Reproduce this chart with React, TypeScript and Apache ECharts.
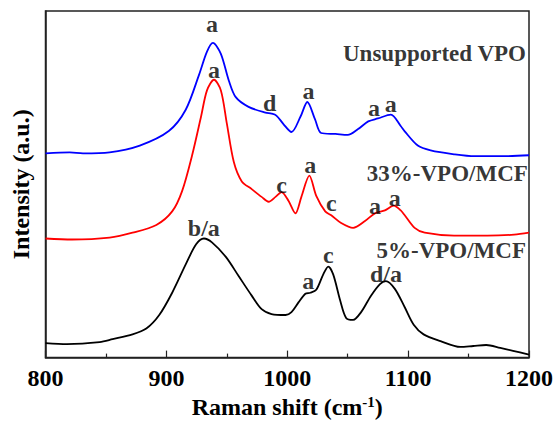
import React, { useEffect, useRef } from "react";
import * as echarts from "echarts";

// Raman spectra (wavenumber cm^-1, intensity a.u. offset-stacked)
const unsupportedVPO: [number, number][] = [
  [800, 211], [820, 212], [831, 211], [853, 212], [878, 219], [902, 234], [916, 256],
  [927, 292], [933.6, 316], [938.5, 325], [945, 314], [951.7, 286], [957.4, 269],
  [968, 259], [982, 253], [987, 252], [991, 250], [997, 241], [1003.5, 233],
  [1011, 249], [1016.6, 264], [1023, 246], [1028, 232], [1040, 231], [1050, 230],
  [1058.6, 236], [1067, 244], [1075, 247], [1085.7, 251], [1094, 239], [1097, 234],
  [1108, 219], [1118.6, 214], [1138, 210], [1155, 208], [1176, 208], [1200, 209],
];

const vpo33MCF: [number, number][] = [
  [800, 123], [822, 122], [853, 124], [872, 129], [891.7, 137], [904.8, 151], [913, 172],
  [921.3, 209], [928.7, 249], [933.6, 276], [939.4, 287], [945.1, 276], [950, 242],
  [955.8, 202], [962.4, 182], [970.6, 174], [978.8, 166], [984.6, 161], [990.3, 166],
  [995.3, 171], [1001, 162], [1006.8, 149], [1011.7, 166], [1018.3, 188], [1024, 167],
  [1031.4, 151], [1036.4, 147], [1044.6, 139], [1054.5, 134], [1064.3, 141],
  [1072.5, 149], [1080.8, 152], [1088.2, 157], [1093.9, 152], [1097.2, 147],
  [1105.4, 134], [1113.7, 129], [1138, 126], [1165.5, 126], [1187.7, 127], [1200, 129],
];

const vpo5MCF: [number, number][] = [
  [800, 15], [817.7, 14], [844.8, 16], [855.5, 19], [872, 24], [883.4, 30], [894.1, 44],
  [904.8, 67], [916.3, 97], [924.6, 117], [931.1, 123], [937.7, 119], [949.2, 104],
  [959.9, 84], [970.6, 64], [978.8, 50], [987, 45], [998.6, 44], [1003.5, 47],
  [1009.3, 57], [1015, 66], [1019.1, 67], [1024, 70], [1029.8, 86], [1033.9, 94],
  [1038, 86], [1043.8, 59], [1048.7, 41], [1054.5, 39], [1061.1, 47], [1069.3, 64],
  [1076.7, 76], [1081.6, 79], [1089, 71], [1097.2, 52], [1104.6, 34], [1112.8, 24],
  [1126.8, 17], [1143.2, 11], [1153.9, 12], [1164.6, 13], [1176.2, 10], [1186.8, 7],
  [1200, 3],
];

// Peak assignment labels: [wavenumber, intensity, text]
const peakLabels: [number, number, string][] = [
  [937.8, 345, "a"], [985.5, 263, "d"], [1017.5, 275, "a"], [1071.8, 258, "a"], [1085.7, 262, "a"],
  [939.3, 297, "a"], [995.3, 178, "c"], [1019, 199, "a"], [1036.4, 160, "c"], [1072.5, 157, "a"], [1089, 165, "a"],
  [931, 134, "b/a"], [1017.4, 79, "a"], [1034, 106, "c"], [1081.6, 86, "d/a"],
];

// Sample names: [wavenumber, intensity, text]
const sampleNames: [number, number, string][] = [
  [1197.5, 314, "Unsupported VPO"],
  [1199, 190, "33%-VPO/MCF"],
  [1197.5, 111, "5%-VPO/MCF"],
];

const xTicks = [800, 900, 1000, 1100, 1200];

const FONT = "'Liberation Serif', 'Times New Roman', serif";

export default function App() {
  const ref = useRef<HTMLDivElement>(null);
  useEffect(() => {
    if (!ref.current) return;
    const chart = echarts.init(ref.current, undefined, { renderer: "svg" });
    const lineSeries = (name: string, data: [number, number][], color: string) => ({
      name,
      type: "line",
      data,
      smooth: 0.3,
      showSymbol: false,
      symbol: "none",
      lineStyle: { color, width: 1.8 },
      z: 2,
    });
    const textStyle = { fontFamily: FONT, fontWeight: "bold", fontSize: 24, color: "#000" };
    chart.setOption({
      animation: false,
      backgroundColor: "#fff",
      grid: {
        left: 45.5,
        top: 11,
        right: 24,
        bottom: 55,
        show: true,
        borderColor: "#222",
        borderWidth: 1.5,
        containLabel: false,
      },
      xAxis: {
        type: "value",
        min: 800,
        max: 1200,
        interval: 100,
        name: "Raman shift (cm{sup|-1})",
        nameLocation: "middle",
        nameGap: 35,
        nameTextStyle: {
          ...textStyle,
          rich: {
            sup: { fontFamily: FONT, fontWeight: "bold", fontSize: 15, verticalAlign: "top", padding: [0, 0, 10, 0], color: "#000" },
          },
        },
        axisLine: { show: true, lineStyle: { color: "#222", width: 1.5 } },
        axisTick: { show: true, inside: true, length: 7, lineStyle: { color: "#222", width: 1.2 } },
        minorTick: { show: true, splitNumber: 2, length: 4, lineStyle: { color: "#222", width: 1.2 } },
        splitLine: { show: false },
        axisLabel: {
          margin: 8,
          ...textStyle,
          formatter: (v: number) => (xTicks.includes(v) ? String(v) : ""),
        },
      },
      yAxis: {
        type: "value",
        min: 0,
        max: 358,
        name: "Intensity (a.u.)",
        nameLocation: "middle",
        nameGap: 13,
        nameTextStyle: textStyle,
        axisLine: { show: true, lineStyle: { color: "#222", width: 1.5 } },
        axisTick: { show: false },
        axisLabel: { show: false },
        splitLine: { show: false },
      },
      series: [
        lineSeries("Unsupported VPO", unsupportedVPO, "#0000ff"),
        lineSeries("33%-VPO/MCF", vpo33MCF, "#ff0000"),
        lineSeries("5%-VPO/MCF", vpo5MCF, "#000000"),
        {
          type: "scatter",
          data: peakLabels,
          symbolSize: 0,
          silent: true,
          z: 3,
          label: {
            show: true,
            position: "inside",
            formatter: (p: any) => p.value[2],
            ...textStyle,
            lineHeight: 17,
          },
        },
        {
          type: "scatter",
          data: sampleNames,
          symbolSize: 0,
          silent: true,
          z: 3,
          label: {
            show: true,
            position: "inside",
            align: "right",
            verticalAlign: "middle",
            formatter: (p: any) => p.value[2],
            ...textStyle,
            fontSize: 23,
            lineHeight: 17,
          },
        },
      ],
    });
    return () => chart.dispose();
  }, []);
  return <div ref={ref} style={{ width: 556, height: 424, position: "absolute", left: 0, top: 0 }} />;
}
